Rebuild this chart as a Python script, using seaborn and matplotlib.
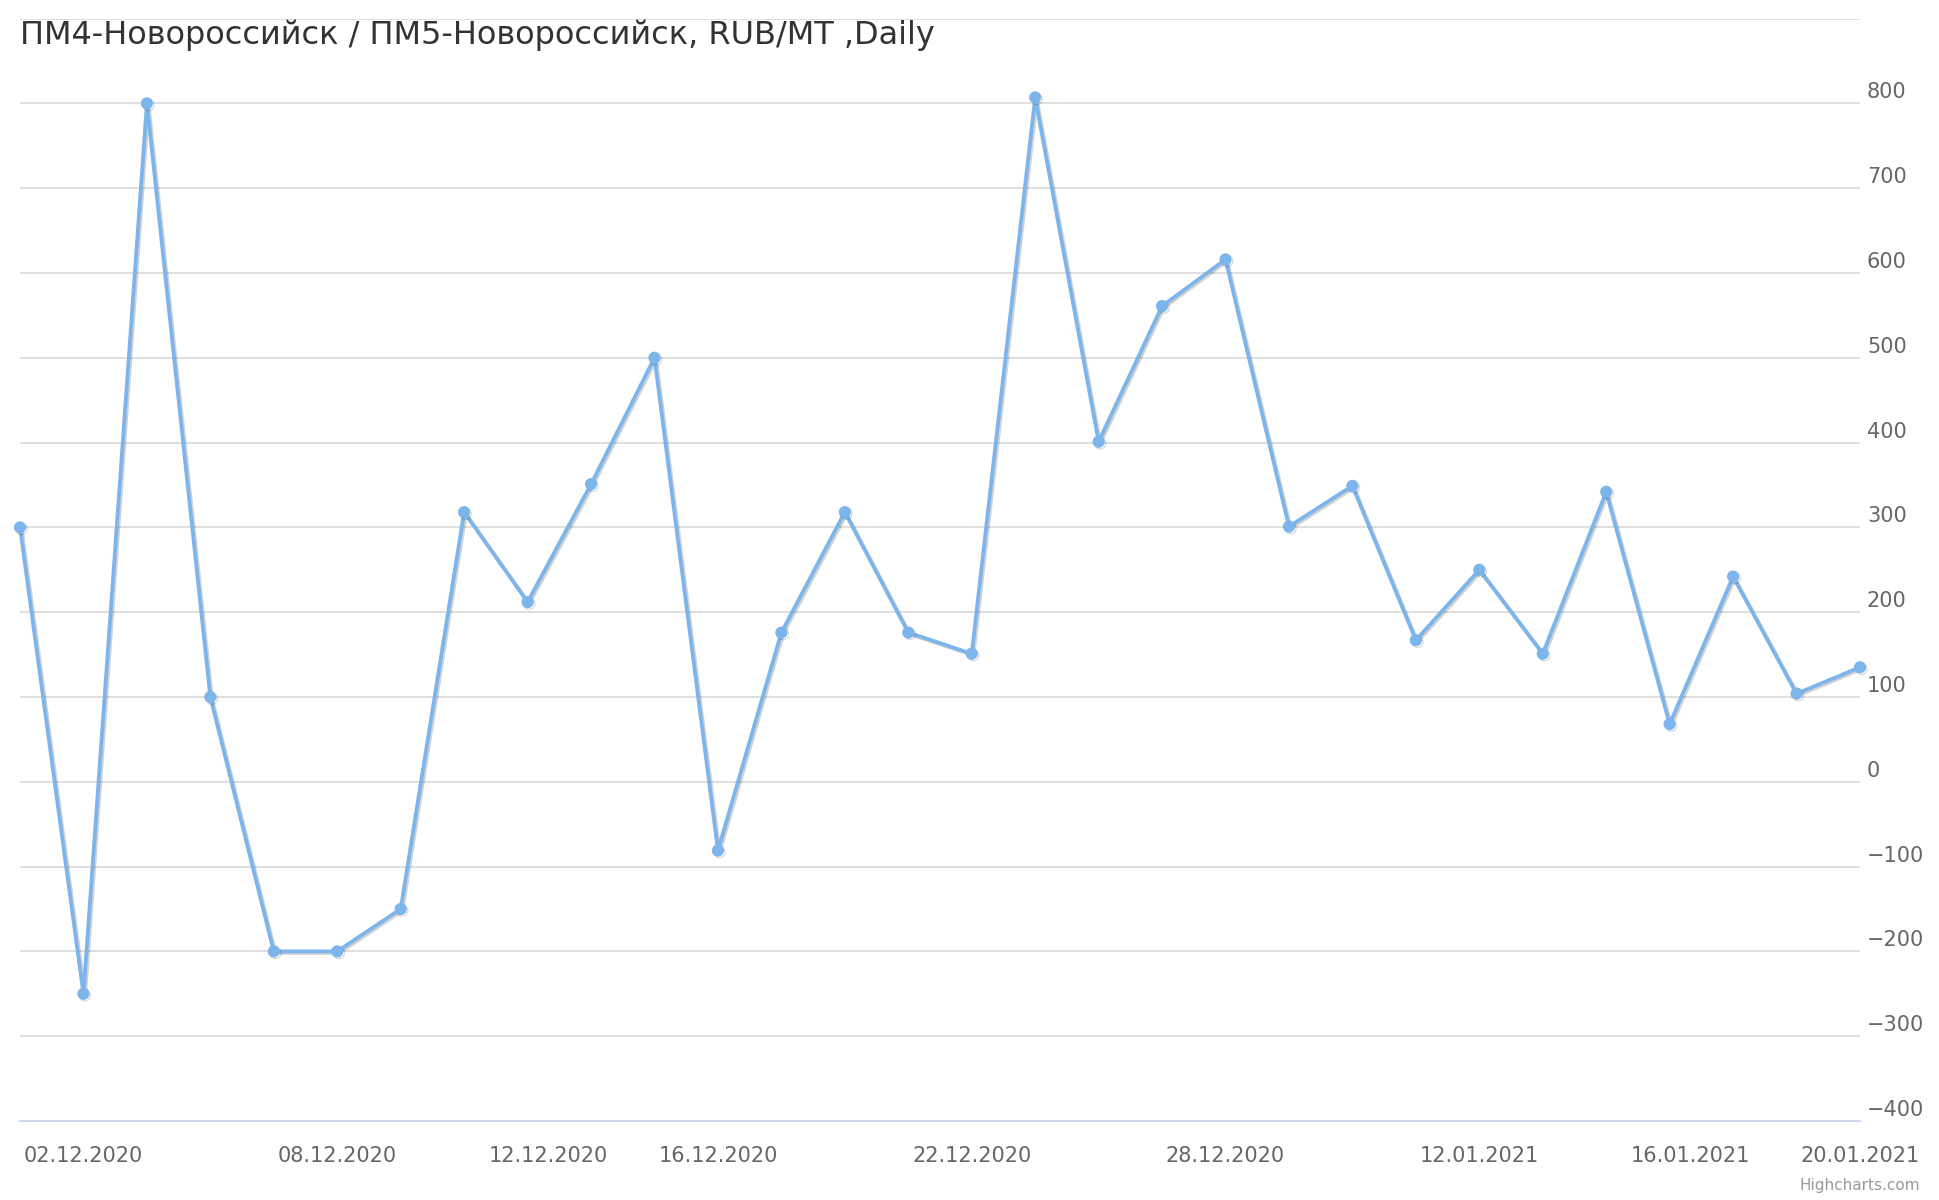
import numpy as np
import pandas as pd
import matplotlib
matplotlib.use("Agg")
import matplotlib.pyplot as plt
import matplotlib.patheffects as pe
from matplotlib.transforms import ScaledTranslation
import seaborn as sns

# trading days (x is ordinal: weekends/holidays are skipped)
dates = ["01.12.2020", "02.12.2020", "03.12.2020", "04.12.2020", "07.12.2020",
         "08.12.2020", "09.12.2020", "10.12.2020", "11.12.2020", "14.12.2020",
         "15.12.2020", "16.12.2020", "17.12.2020", "18.12.2020", "21.12.2020",
         "22.12.2020", "23.12.2020", "24.12.2020", "25.12.2020", "28.12.2020",
         "29.12.2020", "30.12.2020", "11.01.2021", "12.01.2021", "13.01.2021",
         "14.01.2021", "15.01.2021", "18.01.2021", "19.01.2021", "20.01.2021"]
values = [300, -250, 800, 100, -200, -200, -150, 318, 212, 351,
          500, -81, 176, 318, 176, 151, 807, 401, 561, 616,
          301, 349, 167, 250, 151, 342, 68, 242, 104, 135]
tick_dates = ["02.12.2020", "08.12.2020", "12.12.2020", "16.12.2020", "22.12.2020",
              "28.12.2020", "12.01.2021", "16.01.2021", "20.01.2021"]
title = "ПМ4-Новороссийск / ПМ5-Новороссийск, RUB/MT ,Daily"

dt = pd.to_datetime(dates, format="%d.%m.%Y")
df = pd.DataFrame({"pos": np.arange(len(dates)), "value": values})

# tick positions on the ordinal axis (calendar days interpolated between trading days)
td = pd.to_datetime(tick_dates, format="%d.%m.%Y")
tick_pos = np.interp(td.map(pd.Timestamp.toordinal), dt.map(pd.Timestamp.toordinal), df["pos"])

sns.set_theme(style="white")
plt.rcParams["font.family"] = ["DejaVu Sans"]

fig = plt.figure(figsize=(19.4, 12), dpi=100)
ax = fig.add_axes([20 / 1940, 1 - 1121 / 1200, 1840 / 1940, (1121 - 18.6) / 1200])

color = "#7cb5ec"
sns.lineplot(data=df, x="pos", y="value", ax=ax, color=color, linewidth=2.7,
             marker="o", markersize=8, markeredgecolor=color, clip_on=False, zorder=5)
line = ax.lines[0]
line.set_path_effects([pe.SimpleLineShadow(offset=(1.2, -1.2), alpha=0.18, shadow_color="black"),
                       pe.Normal()])

ax.set_xlim(0, len(dates) - 1)
ax.set_ylim(-400, 900)
yt = np.arange(-400, 901, 100)
ax.set_yticks(yt)
ax.set_yticklabels([f"{v:d}".replace("-", "\u2212") if v < 900 else "" for v in yt])
ax.yaxis.tick_right()
ax.yaxis.grid(True, color="#d9d9d9", linewidth=1.2)
ax.tick_params(axis="y", length=0, pad=5, labelsize=15, labelcolor="#666666")
for lab in ax.get_yticklabels():
    lab.set_verticalalignment("center")
    lab.set_transform(lab.get_transform() + ScaledTranslation(0, 11 / 100, fig.dpi_scale_trans))

ax.set_xticks(tick_pos)
ax.set_xticklabels(tick_dates)
ax.tick_params(axis="x", length=12, width=1.3, color="#ccd6eb", pad=6,
               labelsize=15, labelcolor="#666666", direction="out")
ax.set_xlabel("")
ax.set_ylabel("")

for s in ["top", "left", "right"]:
    ax.spines[s].set_visible(False)
ax.spines["bottom"].set_color("#ccd6eb")
ax.spines["bottom"].set_linewidth(1.5)

fig.text(20 / 1940, 1 - 44 / 1200, title, fontsize=23, color="#333333",
         ha="left", va="baseline")
fig.text(1920 / 1940, 1 - 1190 / 1200, "Highcharts.com", fontsize=11,
         color="#999999", ha="right", va="baseline")

fig.savefig("out.png", dpi=100)
